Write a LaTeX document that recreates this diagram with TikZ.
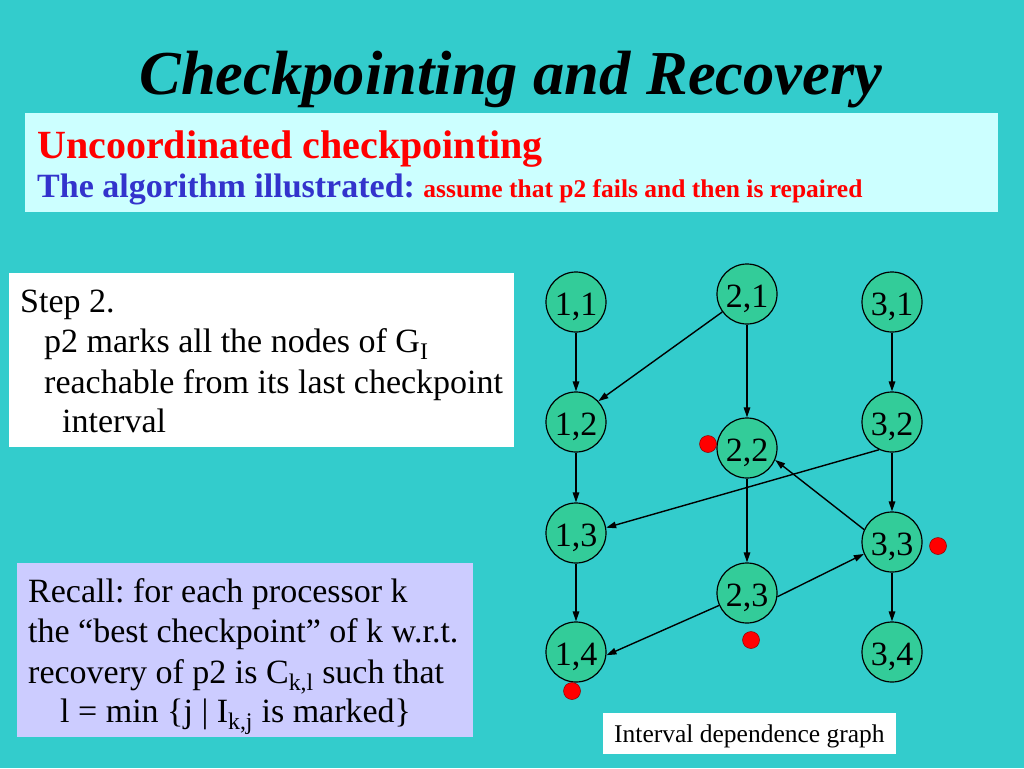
\documentclass[tikz,border=0pt]{standalone}
\usepackage{fontspec}
\setmainfont{Liberation Serif}
\usetikzlibrary{arrows.meta}
\definecolor{bg}{HTML}{33CCCC}
\definecolor{nodegreen}{HTML}{33CC99}
\definecolor{titlebox}{HTML}{CCFFFF}
\definecolor{recallbox}{HTML}{CCCCFF}
\definecolor{subred}{HTML}{FF0000}
\definecolor{subblue}{HTML}{3333CC}
\frenchspacing
\begin{document}
\begin{tikzpicture}[x=1pt,y=-1pt,
  proc/.style={circle,draw=black,line width=1.2pt,fill=nodegreen,minimum size=60pt,inner sep=0pt,text height=26pt,text depth=0pt,font=\fontsize{34}{40}\selectfont},
  dep/.style={line width=1.4pt,-{Triangle[length=10pt,width=6.5pt]}},
  reddot/.style={circle,fill=red,draw=red!55!black,line width=0.5pt,minimum size=17pt,inner sep=0pt},
  txtline/.style={anchor=base west,inner sep=0pt,font=\fontsize{34}{40}\selectfont},
  panel/.style={anchor=north west,inner sep=0pt,outer sep=0pt}
]
\fill[bg] (0,0) rectangle (1024,768);
\useasboundingbox (0,0) rectangle (1024,768);

% title
\node[anchor=base,inner sep=0pt,font=\fontsize{62.5}{70}\selectfont\bfseries\itshape] (title) at (511,94) {Checkpointing and Recovery};

% header box
\node[panel,fill=titlebox,minimum width=973pt,minimum height=99pt] (hdr) at (25,113) {};
\node[txtline,font=\fontsize{40}{48}\selectfont\bfseries,text=subred] (sub1) at (37,158) {Uncoordinated checkpointing};
\node[txtline,font=\fontsize{34}{40}\selectfont\bfseries,text=subblue] (sub2) at (37,197) {The algorithm illustrated: {\color{subred}\fontsize{25.5}{30}\selectfont assume that p2 fails and then is repaired}};

% step box
\node[panel,fill=white,minimum width=505pt,minimum height=174pt] (stepbox) at (9,273) {};
\node[txtline] (s1) at (20,312) {Step 2.};
\node[txtline] (s2) at (44,352) {p2 marks all the nodes of G\textsubscript{I}};
\node[txtline] (s3) at (44,393) {reachable from its last checkpoint};
\node[txtline] (s4) at (62,432) {interval};

% recall box
\node[panel,fill=recallbox,minimum width=456pt,minimum height=174pt] (recbox) at (17,563) {};
\node[txtline] (r1) at (28,602) {Recall: for each processor k};
\node[txtline] (r2) at (28,642) {the “best checkpoint” of k w.r.t.};
\node[txtline] (r3) at (28,683) {recovery of p2 is C\textsubscript{k,l} such that};
\node[txtline] (r4) at (60,722) {l = min \{j | I\textsubscript{k,j} is marked\}};

% graph nodes
\node[proc] (n11) at (576,302) {1,1};
\node[proc] (n21) at (747,294) {2,1};
\node[proc] (n31) at (892,302) {3,1};
\node[proc] (n12) at (576,422) {1,2};
\node[proc] (n22) at (747,448) {2,2};
\node[proc] (n32) at (892,422) {3,2};
\node[proc] (n13) at (576,533) {1,3};
\node[proc] (n23) at (747,593) {2,3};
\node[proc] (n33) at (892,542) {3,3};
\node[proc] (n14) at (576,652) {1,4};
\node[proc] (n34) at (892,652) {3,4};

% edges
\draw[dep] (n11) -- (n12);
\draw[dep] (n12) -- (n13);
\draw[dep] (n13) -- (n14);
\draw[dep] (n21) -- (n22);
\draw[dep] (n22) -- (n23);
\draw[dep] (n31) -- (n32);
\draw[dep] (n32) -- (n33);
\draw[dep] (n33) -- (n34);
\draw[dep] (n21.216) -- (n12.43);
\draw[dep] (n32.245) -- (n13.10);
\draw[dep] (n33.156) -- (n22.337);
\draw[dep] (n23.204) -- (n14.354);
\draw[dep] (n23.353) -- (n33.203);

% marks
\node[reddot] (d22) at (708,444) {};
\node[reddot] (d33) at (938,546) {};
\node[reddot] (d23) at (751,640) {};
\node[reddot] (d14) at (572,691) {};

% caption
\node[panel,fill=white,minimum width=293pt,minimum height=41pt] (capbox) at (603,713) {};
\node[txtline,font=\fontsize{25.5}{30}\selectfont] (cap) at (614,742) {Interval dependence graph};
\end{tikzpicture}
\end{document}
